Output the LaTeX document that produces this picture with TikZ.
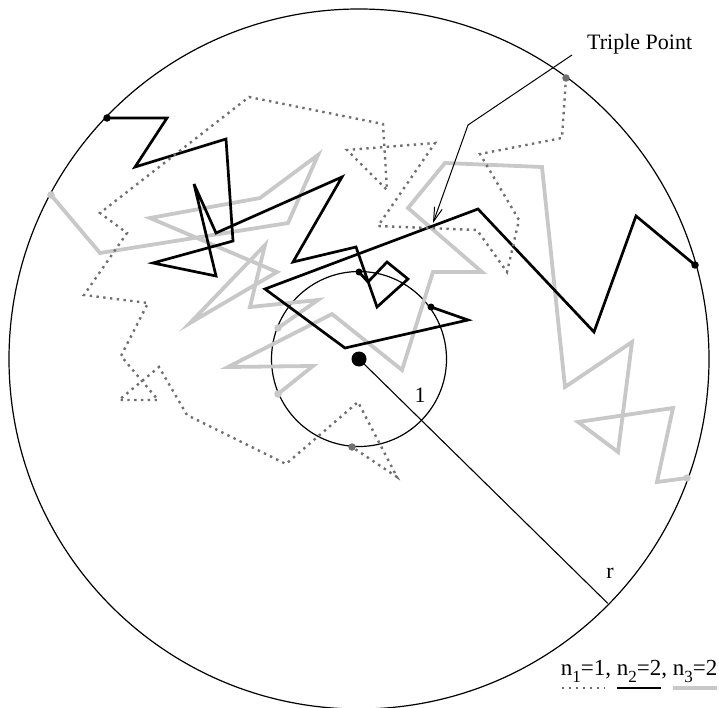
\documentclass[tikz,border=0pt]{standalone}
\usepackage{fontspec}
\setmainfont{Liberation Serif}
\usetikzlibrary{arrows.meta}
\definecolor{dk}{HTML}{707070}
\definecolor{lt}{HTML}{C8C8C8}
\newcommand{\sbs}[1]{\raisebox{-0.32em}{\fontsize{17pt}{17pt}\selectfont #1}}
\begin{document}
\begin{tikzpicture}[x=1pt,y=-1pt,
  circ/.style={line width=1.2pt, black},
  bpath/.style={line width=2.7pt, black},
  gpath/.style={line width=3.8pt, lt},
  dpath/.style={line width=2.4pt, dk, dash pattern=on 2.4pt off 4.4pt},
  lbl/.style={font=\fontsize{22pt}{24pt}\selectfont, inner sep=0pt},
  bdot/.style={fill=black, circle, inner sep=0pt, minimum size=7.5pt},
  sdot/.style={fill=black, circle, inner sep=0pt, minimum size=7pt},
  ddot/.style={fill=dk, circle, inner sep=0pt, minimum size=7.5pt},
  ldot/.style={fill=lt, circle, inner sep=0pt, minimum size=7.5pt}]
\useasboundingbox (0,0) rectangle (719,708);
\coordinate (c) at (359,359);
% circles
\draw[circ] (c) circle (350);
\draw[circ] (c) circle (87.5);
\coordinate (rend) at (607.7,603.3);
\draw[line width=1.1pt] (c) -- (rend);
% light gray paths
\draw[gpath] (278,328) -- (318,300) -- (250,307) -- (265,245) -- (190,323) -- (277,272) -- (150,218) -- (260,198) -- (318,155) -- (288,223) -- (100,253) -- (51,195);
\draw[gpath] (278,394) -- (313,366) -- (228,367) -- (332,314) -- (402,370) -- (433,272) -- (482,272) -- (408,208) -- (445,163) -- (542,167) -- (565,387) -- (632,342) -- (618,452) -- (578,422) -- (673,408) -- (657,482) -- (687,478);
% black paths
\draw[bpath] (359,272) -- (368,282) -- (387,262) -- (408,279) -- (377,307) -- (356,247) -- (293,262) -- (342,177) -- (216,233) -- (194,184) -- (216,276) -- (153,263) -- (233,241) -- (226,139) -- (135,167) -- (167,118) -- (107,118);
\draw[bpath] (431,307) -- (468,320) -- (345,348) -- (265,289) -- (478,209) -- (594,332) -- (636,216) -- (695,265);
% dotted path
\draw[dpath] (566,78) -- (562,138) -- (480,154) -- (519,220) -- (507,272) -- (477,230) -- (378,226) -- (435,143) -- (347,150) -- (387,190) -- (383,124) -- (249,97) -- (100,213) -- (127,233) -- (84,295) -- (148,303) -- (121,356) -- (158,400) -- (119,400) -- (159,367) -- (187,415) -- (286,464) -- (358,402) -- (397,477) -- (352,447);
% dots
\node[bdot] (b1) at (107,118) {};
\node[bdot] (b2) at (695,265) {};
\node[sdot] (b3) at (359,272) {};
\node[sdot] (b4) at (431,307) {};
\node[ddot] (d1) at (566,78) {};
\node[ddot] (d2) at (352,447) {};
\node[ldot] (l1) at (51,195) {};
\node[ldot] (l2) at (687,478) {};
\node[ldot] (l3) at (278,328) {};
\node[ldot] (l4) at (278,394) {};
\node[fill=black, circle, inner sep=0pt, minimum size=15pt] (ctr) at (c) {};
% labels
\node[lbl] (one) at (420,395) {1};
\node[lbl] (rr) at (610,573) {r};
\node[lbl, anchor=base west] (tp) at (587,50) {Triple Point};
\coordinate (tpa) at (572,55);
\coordinate (tpb) at (468,125);
\coordinate (tpc) at (433,223);
\draw[line width=1pt, -{Straight Barb[length=14pt,width=8pt]}] (tpa) -- (tpb) -- (tpc);
% legend
\node[lbl, font=\fontsize{23pt}{25pt}\selectfont, anchor=base east] (leg) at (717.5,675) {n\sbs{1}=1, n\sbs{2}=2, n\sbs{3}=2};
\coordinate (la) at (562,688); \coordinate (lb) at (605,688);
\coordinate (lc) at (617,688); \coordinate (ld) at (661,688);
\coordinate (le) at (673,688); \coordinate (lf) at (717,688);
\draw[line width=1.5pt, dk, dash pattern=on 1.5pt off 5.5pt] (la) -- (lb);
\draw[line width=2.4pt] (lc) -- (ld);
\draw[line width=3.4pt, lt] (le) -- (lf);
\end{tikzpicture}
\end{document}
